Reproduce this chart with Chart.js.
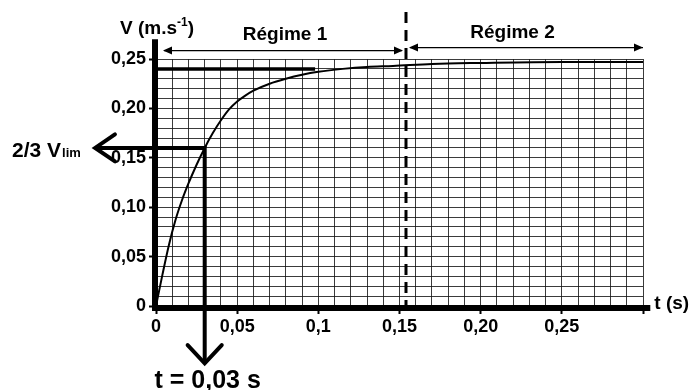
<!DOCTYPE html>
<html>
<head>
<meta charset="utf-8">
<script src="https://cdn.jsdelivr.net/npm/chart.js@4/dist/chart.umd.min.js"></script>
<style>
  html, body { margin: 0; padding: 0; background: #fff; }
  #wrap { width: 698px; height: 390px; position: relative; }
</style>
</head>
<body>
<div id="wrap"><canvas id="speedChart" width="698" height="390"></canvas></div>
<script>
// values
const timeS = [0, 0.004, 0.008, 0.012, 0.016, 0.02, 0.025, 0.03, 0.035, 0.04, 0.045, 0.05, 0.055, 0.06, 0.07, 0.08, 0.09, 0.10, 0.115, 0.13, 0.146, 0.17, 0.20, 0.25, 0.30];
const speed = [0, 0.032, 0.062, 0.087, 0.107, 0.124, 0.143, 0.160, 0.175, 0.188, 0.199, 0.207, 0.213, 0.218, 0.225, 0.230, 0.234, 0.237, 0.240, 0.242, 0.243, 0.245, 0.246, 0.247, 0.247];

const xTickValues = [0, 0.05, 0.1, 0.15, 0.2, 0.25];
const xTickLabels = ['0', '0,05', '0,1', '0,15', '0,20', '0,25'];
const yTickValues = [0, 0.05, 0.1, 0.15, 0.2, 0.25];
const yTickLabels = ['0', '0,05', '0,10', '0,15', '0,20', '0,25'];

const vLim = 0.24;
const vLimLineEnd = 0.098;
const vTwoThirds = 0.16;
const tTwoThirds = 0.03;
const regimeBoundary = 0.154;

const FONT = "'Liberation Sans', Arial, sans-serif";

function labelFor(values, labels, v) {
    const i = values.findIndex(t => Math.abs(t - v) < 1e-6);
    return i >= 0 ? labels[i] : '';
}
function isMajor(v) {
    return Math.abs(Math.round(v * 100) % 5) === 0;
}

// arrow helpers
function openArrow(ctx, tipX, tipY, angle, len, spread) {
    ctx.beginPath();
    ctx.moveTo(tipX + len * Math.cos(angle - spread), tipY + len * Math.sin(angle - spread));
    ctx.lineTo(tipX, tipY);
    ctx.lineTo(tipX + len * Math.cos(angle + spread), tipY + len * Math.sin(angle + spread));
    ctx.stroke();
}
function filledHead(ctx, tipX, tipY, dir) {
    ctx.beginPath();
    ctx.moveTo(tipX, tipY);
    ctx.lineTo(tipX - dir * 9, tipY - 4);
    ctx.lineTo(tipX - dir * 9, tipY + 4);
    ctx.closePath();
    ctx.fill();
}

const decorations = {
    id: 'decorations',
    afterDatasetsDraw(chart) {
        const ctx = chart.ctx;
        const xs = chart.scales.x;
        const ys = chart.scales.y;
        const x0 = xs.getPixelForValue(0);
        const y0 = ys.getPixelForValue(0);
        ctx.save();
        ctx.strokeStyle = '#000';
        ctx.fillStyle = '#000';

        // thick axes
        ctx.lineWidth = 6;
        ctx.beginPath();
        ctx.moveTo(x0 - 1, ys.getPixelForValue(0.27));
        ctx.lineTo(x0 - 1, y0 + 2);
        ctx.lineTo(xs.getPixelForValue(0.3045), y0 + 2);
        ctx.stroke();

        // dashed boundary between regimes
        const bx = xs.getPixelForValue(regimeBoundary);
        ctx.lineWidth = 3;
        ctx.setLineDash([11, 7]);
        ctx.beginPath();
        ctx.moveTo(bx, 12);
        ctx.lineTo(bx, y0);
        ctx.stroke();
        ctx.setLineDash([]);

        // regime arrows
        const ay = ys.getPixelForValue(0.2585);
        ctx.lineWidth = 1.3;
        ctx.beginPath();
        ctx.moveTo(x0 + 8, ay);
        ctx.lineTo(bx - 4, ay);
        ctx.moveTo(bx + 4, ay - 3);
        ctx.lineTo(xs.getPixelForValue(0.3), ay - 3);
        ctx.stroke();
        filledHead(ctx, x0 + 7, ay, -1);
        filledHead(ctx, bx - 3, ay, 1);
        filledHead(ctx, bx + 3, ay - 3, -1);
        filledHead(ctx, xs.getPixelForValue(0.3), ay - 3, 1);

        // arrowheads of the 2/3 Vlim construction
        ctx.lineWidth = 4;
        ctx.lineCap = 'round';
        openArrow(ctx, xs.getPixelForValue(-0.0375), ys.getPixelForValue(vTwoThirds), 0, 24, 0.6);
        openArrow(ctx, xs.getPixelForValue(tTwoThirds), ys.getPixelForValue(-0.058), -Math.PI / 2, 25, 0.75);
        ctx.lineCap = 'butt';

        // texts
        ctx.textBaseline = 'alphabetic';
        ctx.textAlign = 'left';
        ctx.font = 'bold 19px ' + FONT;
        let tx = 120;
        ctx.fillText('V (m.s', tx, 34);
        tx += ctx.measureText('V (m.s').width;
        ctx.font = 'bold 12px ' + FONT;
        ctx.fillText('-1', tx, 26);
        tx += ctx.measureText('-1').width;
        ctx.font = 'bold 19px ' + FONT;
        ctx.fillText(')', tx, 34);

        ctx.textAlign = 'center';
        ctx.fillText('Régime 1', (x0 + bx) / 2 + 4, 40);
        ctx.fillText('Régime 2', (bx + xs.getPixelForValue(0.3)) / 2 - 12, 38);

        ctx.textAlign = 'left';
        ctx.textBaseline = 'middle';
        ctx.fillText('t (s)', xs.getPixelForValue(0.3045) + 4, y0 - 2);

        ctx.textBaseline = 'alphabetic';
        ctx.font = 'bold 21px ' + FONT;
        ctx.fillText('2/3 V', 12, 157);
        const w = ctx.measureText('2/3 V').width;
        ctx.font = 'bold 13px ' + FONT;
        ctx.fillText('lim', 12 + w + 1, 157);

        ctx.font = 'bold 25px ' + FONT;
        ctx.textAlign = 'center';
        ctx.fillText('t = 0,03 s', xs.getPixelForValue(tTwoThirds) + 3, 388);

        ctx.restore();
    }
};

const ctx = document.getElementById('speedChart').getContext('2d');
new Chart(ctx, {
    type: 'line',
    data: {
        datasets: [
            {
                data: timeS.map((t, i) => ({ x: t, y: speed[i] })),
                borderColor: '#000',
                borderWidth: 2,
                pointRadius: 0,
                cubicInterpolationMode: 'monotone',
                fill: false
            },
            {
                data: [{ x: 0, y: vLim }, { x: vLimLineEnd, y: vLim }],
                borderColor: '#000',
                borderWidth: 3.5,
                pointRadius: 0
            },
            {
                data: [{ x: -0.0375, y: vTwoThirds }, { x: tTwoThirds, y: vTwoThirds }, { x: tTwoThirds, y: -0.058 }],
                borderColor: '#000',
                borderWidth: 4,
                pointRadius: 0,
                clip: false
            }
        ]
    },
    options: {
        responsive: false,
        animation: false,
        layout: { padding: { top: 59, right: 55, left: 0, bottom: 0 } },
        plugins: { legend: { display: false }, tooltip: { enabled: false } },
        scales: {
            x: {
                type: 'linear',
                min: 0,
                max: 0.3,
                afterFit(scale) { scale.height = 84; },
                border: { display: false },
                grid: {
                    color: 'rgba(25,25,25,0.85)',
                    lineWidth: 1,
                    tickLength: 8,
                    tickWidth: 2,
                    tickColor: c => (c.tick && isMajor(c.tick.value) ? '#000' : 'rgba(0,0,0,0)')
                },
                ticks: {
                    stepSize: 0.01,
                    autoSkip: false,
                    maxRotation: 0,
                    padding: 2,
                    color: '#000',
                    font: { family: FONT, size: 18, weight: 'bold' },
                    callback: v => labelFor(xTickValues, xTickLabels, v)
                }
            },
            y: {
                type: 'linear',
                min: 0,
                max: 0.25,
                afterFit(scale) { scale.width = 156; },
                border: { display: false },
                grid: {
                    color: 'rgba(25,25,25,0.85)',
                    lineWidth: 1,
                    tickLength: 7,
                    tickWidth: 2,
                    tickColor: c => (c.tick && isMajor(c.tick.value) ? '#000' : 'rgba(0,0,0,0)')
                },
                ticks: {
                    stepSize: 0.01,
                    autoSkip: false,
                    padding: 3,
                    color: '#000',
                    font: { family: FONT, size: 18, weight: 'bold' },
                    callback: v => labelFor(yTickValues, yTickLabels, v)
                }
            }
        }
    },
    plugins: [decorations]
});
</script>
</body>
</html>
